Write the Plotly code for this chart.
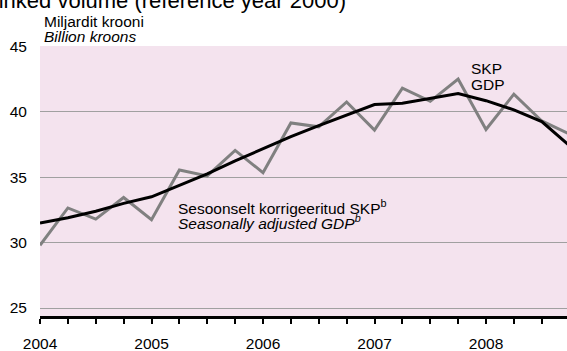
import plotly.graph_objects as go

# Quarterly real GDP, billion kroons, 2004 Q1 – 2008 Q4
years = [2004, 2005, 2006, 2007, 2008]
quarters = [1, 2, 3, 4]
gdp = [29.8, 32.65, 31.8, 33.45,
       31.75, 35.55, 35.1, 37.05,
       35.35, 39.15, 38.85, 40.75,
       38.6, 41.8, 40.8, 42.5,
       38.65, 41.35, 39.3, 38.3]
gdp_sa = [31.5, 31.9, 32.4, 33.0,
          33.5, 34.4, 35.25, 36.25,
          37.2, 38.1, 38.95, 39.75,
          40.55, 40.65, 41.0, 41.4,
          40.85, 40.15, 39.25, 37.4]
y_ticks = [25, 30, 35, 40, 45]

x = [y + (q - 1) / 4 for y in years for q in quarters]
tick_text = [str(y) if q == 1 else "" for y in years for q in quarters]

W, H = 567, 351
L, R, T, B = 40, 0, 46, 34.5
PW, PH = W - L - R, H - T - B
FONT = "Arial, Liberation Sans, sans-serif"


def px_x(px):
    return (px - L) / PW


def px_y(py):
    return (H - B - py) / PH


fig = go.Figure()
fig.add_trace(go.Scatter(x=x, y=gdp, mode="lines",
                         line=dict(color="#808080", width=3), showlegend=False))
fig.add_trace(go.Scatter(x=x, y=gdp_sa, mode="lines",
                         line=dict(color="#000000", width=3), showlegend=False))

ann = dict(showarrow=False, font=dict(family=FONT, size=15.5, color="#000"))
annotations = [
    dict(text="Chain-linked volume (reference year 2000)", xref="paper", yref="paper",
         x=px_x(348), y=px_y(0), xanchor="right", yanchor="middle",
         font=dict(family=FONT, size=22, color="#000"), showarrow=False),
    dict(text="Miljardit krooni", xref="paper", yref="paper",
         x=px_x(42), y=px_y(21), xanchor="left", yanchor="middle", **ann),
    dict(text="<i>Billion kroons</i>", xref="paper", yref="paper",
         x=px_x(42), y=px_y(36), xanchor="left", yanchor="middle", **ann),
    dict(text="SKP", xref="x", yref="y", x=2007.85, y=43.33,
         xanchor="left", yanchor="middle", **ann),
    dict(text="GDP", xref="x", yref="y", x=2007.85, y=42.05,
         xanchor="left", yanchor="middle", **ann),
    dict(text="Sesoonselt korrigeeritud SKP<sup>b</sup>", xref="x", yref="y",
         x=2005.22, y=32.73, xanchor="left", yanchor="middle", **ann),
    dict(text="<i>Seasonally adjusted GDP<sup>b</sup></i>", xref="x", yref="y",
         x=2005.22, y=31.6, xanchor="left", yanchor="middle", **ann),
]

fig.update_layout(
    width=W, height=H,
    margin=dict(l=L, r=R, t=T, b=B, pad=0),
    paper_bgcolor="#ffffff",
    plot_bgcolor="rgb(244,227,238)",
    font=dict(family=FONT, size=15.5, color="#000"),
    annotations=annotations,
    xaxis=dict(
        range=[2004, 2004 + PW / 111.5],
        tickvals=x, ticktext=tick_text,
        ticks="outside", ticklen=5, tickwidth=1.5, tickcolor="#000",
        ticklabelstandoff=6,
        showline=True, linecolor="#000", linewidth=3,
        showgrid=False, zeroline=False,
        tickfont=dict(size=15.5),
    ),
    yaxis=dict(
        range=[24.39, 45.03],
        tickvals=y_ticks,
        ticks="", ticklabelstandoff=12,
        showgrid=True, gridcolor="#a0a0a0", gridwidth=1,
        showline=False, zeroline=False,
        tickfont=dict(size=15.5),
    ),
)

fig.write_html("out.html")
